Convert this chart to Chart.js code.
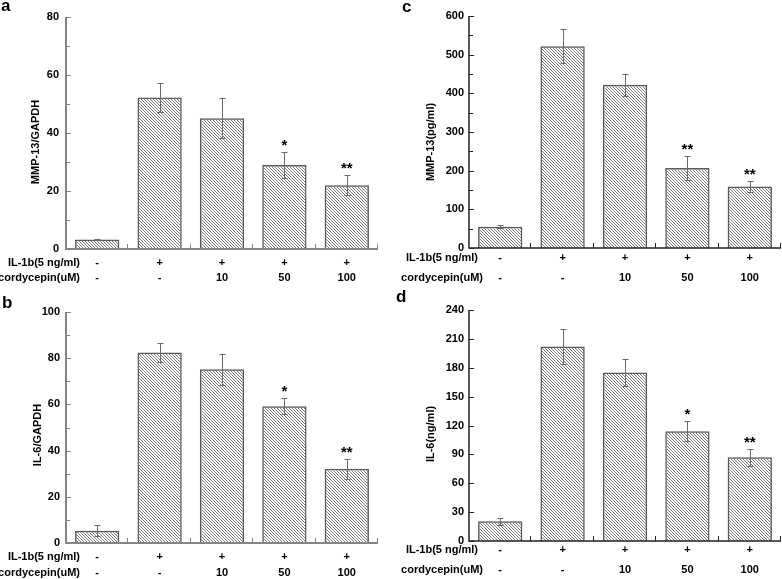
<!DOCTYPE html>
<html>
<head>
<meta charset="utf-8">
<script src="https://cdn.jsdelivr.net/npm/chart.js@4/dist/chart.umd.min.js"></script>
<style>
  body { margin: 0; background: #fff; }
  #wrap { position: relative; width: 782px; height: 579px; overflow: hidden; }
  canvas { position: absolute; }
</style>
</head>
<body>
<div id="wrap">
  <canvas id="panelA" width="391" height="290" style="left:0;top:0"></canvas>
  <canvas id="panelC" width="391" height="290" style="left:391px;top:0"></canvas>
  <canvas id="panelB" width="391" height="289" style="left:0;top:290px"></canvas>
  <canvas id="panelD" width="391" height="289" style="left:391px;top:290px"></canvas>
</div>
<script>
// ----- DATA -----
const groups = ["g1", "g2", "g3", "g4", "g5"];
const il1bRow = ["-", "+", "+", "+", "+"];
const cordycepinRow = ["-", "-", "10", "50", "100"];

// a: MMP-13/GAPDH
const mmp13Rel = [3.3, 52.2, 45.1, 29.0, 22.0];
const mmp13RelErr = [0.3, 5.0, 6.8, 4.4, 3.5];
const mmp13RelStars = ["", "", "", "*", "**"];

// b: IL-6/GAPDH
const il6Rel = [5.3, 82.5, 75.2, 59.2, 32.1];
const il6RelErr = [2.4, 4.0, 6.7, 3.5, 4.4];
const il6RelStars = ["", "", "", "*", "**"];

// c: MMP-13 (pg/ml)
const mmp13Conc = [55, 522, 422, 207, 159];
const mmp13ConcErr = [4, 44, 28, 31, 14];
const mmp13ConcStars = ["", "", "", "**", "**"];

// d: IL-6 (ng/ml)
const il6Conc = [20.5, 202, 175, 114, 87];
const il6ConcErr = [3.8, 18.5, 14, 10.5, 8.7];
const il6ConcStars = ["", "", "", "*", "**"];

const FONT = "'Liberation Sans', Arial, sans-serif";

// ----- HATCH FILL -----
function makeHatch() {
  const s = 3;
  const c = document.createElement("canvas");
  c.width = s; c.height = s;
  const g = c.getContext("2d");
  g.strokeStyle = "#7c7c7c";
  g.lineWidth = 1;
  g.beginPath();
  g.moveTo(-1, -1); g.lineTo(s + 1, s + 1);
  g.moveTo(-1, s - 1); g.lineTo(1, s + 1);
  g.moveTo(s - 1, -1); g.lineTo(s + 1, 1);
  g.stroke();
  return g.createPattern(c, "repeat");
}
const hatch = makeHatch();

// ----- DECORATION PLUGIN (axes, ticks, error bars, labels) -----
const decor = {
  id: "decor",
  afterDatasetsDraw(chart) {
    const o = chart.options.plugins.decor;
    const { ctx, chartArea: ca } = chart;
    const xs = chart.scales.x, ys = chart.scales.y;
    const meta = chart.getDatasetMeta(0);
    ctx.save();

    // error bars + significance marks
    ctx.strokeStyle = "#6a6a6a";
    ctx.lineWidth = 1;
    meta.data.forEach((bar, i) => {
      const v = o.values[i], e = o.errors[i];
      const x = Math.round(bar.x) + 0.5;
      const yt = Math.round(ys.getPixelForValue(v + e)) + 0.5;
      const yb = Math.round(ys.getPixelForValue(v - e)) + 0.5;
      ctx.beginPath();
      ctx.moveTo(x, yt); ctx.lineTo(x, yb);
      ctx.moveTo(x - 3, yt); ctx.lineTo(x + 3, yt);
      ctx.moveTo(x - 3, yb); ctx.lineTo(x + 3, yb);
      ctx.stroke();
      if (o.stars[i]) {
        ctx.fillStyle = "#000";
        ctx.font = "bold 15px " + FONT;
        ctx.textAlign = "center";
        ctx.textBaseline = "alphabetic";
        ctx.fillText(o.stars[i], bar.x, yt - 3);
      }
    });

    // axes
    ctx.strokeStyle = o.axisColor;
    ctx.lineWidth = o.axisWidth;
    ctx.beginPath();
    ctx.moveTo(ca.left, ca.top);
    ctx.lineTo(ca.left, ca.bottom);
    ctx.lineTo(ca.right, ca.bottom);
    ctx.stroke();

    ctx.lineWidth = 1;
    ctx.beginPath();
    const step = ys.options.ticks.stepSize;
    ys.ticks.forEach(t => {
      const y = Math.round(ys.getPixelForValue(t.value)) + 0.5;
      ctx.moveTo(ca.left, y); ctx.lineTo(ca.left + 5, y);
      if (o.minor && t.value + step / 2 < ys.max) {
        const ym = Math.round(ys.getPixelForValue(t.value + step / 2)) + 0.5;
        ctx.moveTo(ca.left, ym); ctx.lineTo(ca.left + 4, ym);
      }
    });
    const cw = (ca.right - ca.left) / groups.length;
    for (let i = 1; i <= groups.length; i++) {
      const x = Math.round(ca.left + i * cw) - 0.5;
      ctx.moveTo(x, ca.bottom); ctx.lineTo(x, ca.bottom - 5);
    }
    ctx.stroke();

    // row labels
    ctx.fillStyle = "#000";
    ctx.font = "bold 11px " + FONT;
    ctx.textBaseline = "middle";
    ctx.textAlign = "right";
    ctx.fillText("IL-1b(5 ng/ml)", o.rowRight1, o.row1);
    ctx.fillText("cordycepin(uM)", o.rowRight2, o.row2);
    ctx.textAlign = "center";
    groups.forEach((g, i) => {
      const x = xs.getPixelForValue(i);
      ctx.fillText(il1bRow[i], x, o.row1);
      ctx.fillText(cordycepinRow[i], x, o.row2);
    });

    // y title
    ctx.save();
    ctx.translate(o.titleX, o.titleY);
    ctx.rotate(-Math.PI / 2);
    ctx.textAlign = "center";
    ctx.fillText(o.title, 0, 0);
    ctx.restore();

    // panel letter
    ctx.font = "bold 17px " + FONT;
    ctx.textAlign = "left";
    ctx.textBaseline = "alphabetic";
    ctx.fillText(o.letter, o.letterX, o.letterY);
    ctx.restore();
  }
};

function makePanel(id, cfg) {
  return new Chart(document.getElementById(id), {
    type: "bar",
    data: {
      labels: groups,
      datasets: [{
        data: cfg.values,
        backgroundColor: hatch,
        borderColor: "#5a5a5a",
        borderWidth: 1.5,
        barPercentage: 0.71,
        categoryPercentage: 1
      }]
    },
    options: {
      responsive: false,
      animation: false,
      events: [],
      layout: { padding: { top: cfg.top, right: cfg.right, left: 0, bottom: 0 } },
      plugins: {
        legend: { display: false },
        tooltip: { enabled: false },
        decor: cfg
      },
      scales: {
        x: {
          grid: { display: false, tickLength: 0 },
          border: { display: false },
          ticks: { display: false },
          afterFit(s) { s.height = cfg.xh; }
        },
        y: {
          min: 0,
          max: cfg.max,
          grid: { display: false, tickLength: 0 },
          border: { display: false },
          ticks: {
            stepSize: cfg.step,
            padding: cfg.tickPad,
            color: "#000",
            font: { family: FONT, size: 11, weight: "bold" }
          },
          afterFit(s) { s.width = cfg.yw; }
        }
      }
    },
    plugins: [decor]
  });
}

makePanel("panelA", {
  values: mmp13Rel, errors: mmp13RelErr, stars: mmp13RelStars,
  max: 80, step: 20, minor: true, title: "MMP-13/GAPDH",
  yw: 66, right: 13, top: 17, xh: 41, tickPad: 7,
  axisColor: "#858585", axisWidth: 2,
  rowRight1: 80, rowRight2: 80, row1: 263, row2: 278,
  titleX: 36, titleY: 142, letter: "a", letterX: 1, letterY: 11
});

makePanel("panelB", {
  values: il6Rel, errors: il6RelErr, stars: il6RelStars,
  max: 100, step: 20, minor: true, title: "IL-6/GAPDH",
  yw: 66, right: 13, top: 22, xh: 36, tickPad: 6,
  axisColor: "#858585", axisWidth: 2,
  rowRight1: 80, rowRight2: 80, row1: 267, row2: 283,
  titleX: 38, titleY: 145, letter: "b", letterX: 2, letterY: 18
});

makePanel("panelC", {
  values: mmp13Conc, errors: mmp13ConcErr, stars: mmp13ConcStars,
  max: 600, step: 100, minor: true, title: "MMP-13(pg/ml)",
  yw: 78, right: 1, top: 16, xh: 42, tickPad: 5,
  axisColor: "#222", axisWidth: 1.5,
  rowRight1: 87, rowRight2: 92, row1: 258, row2: 278,
  titleX: 40, titleY: 142, letter: "c", letterX: 11, letterY: 12
});

makePanel("panelD", {
  values: il6Conc, errors: il6ConcErr, stars: il6ConcStars,
  max: 240, step: 30, minor: false, title: "IL-6(ng/ml)",
  yw: 78, right: 1, top: 20, xh: 38, tickPad: 5,
  axisColor: "#222", axisWidth: 1.5,
  rowRight1: 87, rowRight2: 92, row1: 260, row2: 280,
  titleX: 40, titleY: 144, letter: "d", letterX: 5, letterY: 12
});
</script>
</body>
</html>
